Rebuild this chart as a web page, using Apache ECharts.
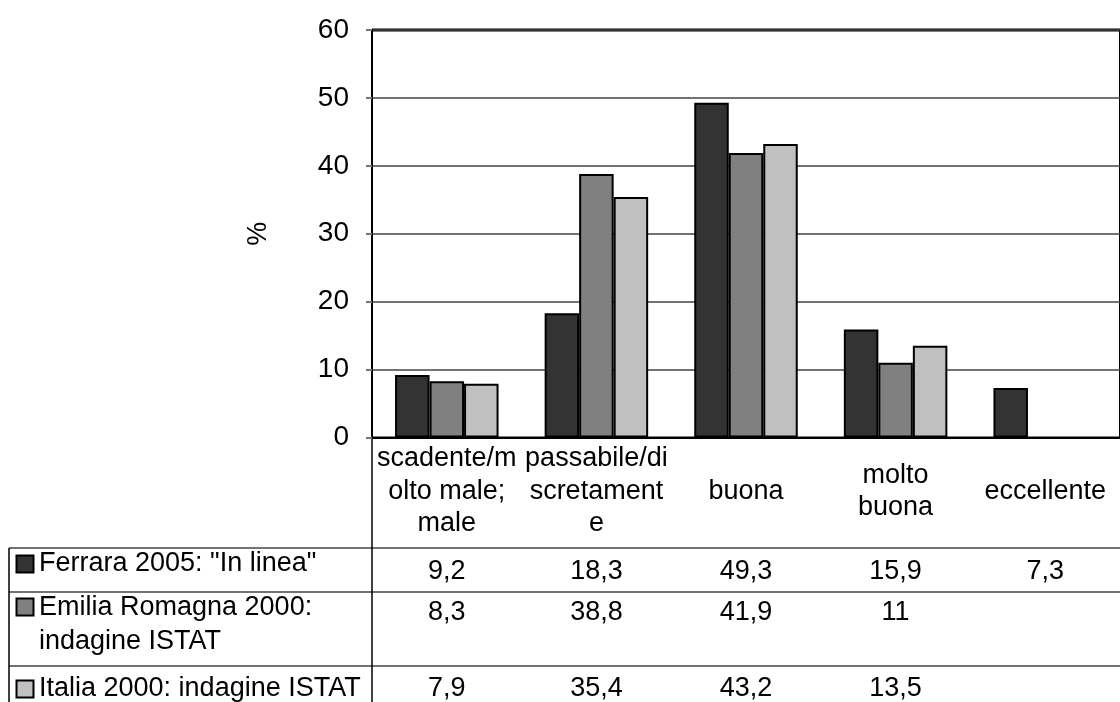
<!DOCTYPE html>
<html>
<head>
<meta charset="utf-8">
<script src="https://cdn.jsdelivr.net/npm/echarts@6/dist/echarts.min.js"></script>
<style>
  html, body { margin: 0; padding: 0; background: #fff; }
  #chart { width: 1120px; height: 702px; }
</style>
</head>
<body>
<div id="chart"></div>
<script>
// dati
var categories = ['scadente/m\nolto male;\nmale', 'passabile/di\nscretament\ne', 'buona', 'molto\nbuona', 'eccellente'];
var seriesNames = ['Ferrara 2005: "In linea"', 'Emilia Romagna 2000:\nindagine ISTAT', 'Italia 2000: indagine ISTAT'];
var ferrara = [9.2, 18.3, 49.3, 15.9, 7.3];
var emilia = [8.3, 38.8, 41.9, 11, null];
var italia = [7.9, 35.4, 43.2, 13.5, null];
var colors = ['#333333', '#808080', '#c0c0c0'];

var font = 'Liberation Sans, Arial, sans-serif';
var fsize = 27;
var dom = document.getElementById('chart');
var chart = echarts.init(dom);

var allData = [ferrara, emilia, italia];

function fmt(v) {
	if (v === null || v === undefined) return '';
	return String(v).replace('.', ',');
}

// righe della tabella: un asse categorico per ogni serie
var rowOffsets = [134, 175, 251];
var xAxes = [{
	type: 'category',
	data: categories,
	axisLine: { lineStyle: { color: '#000', width: 2 } },
	axisTick: { show: false },
	axisLabel: {
		interval: 0,
		margin: 54,
		verticalAlign: 'middle',
		fontFamily: font,
		fontSize: fsize,
		lineHeight: 32.5,
		color: '#000'
	}
}];
for (var i = 0; i < allData.length; i++) {
	xAxes.push({
		type: 'category',
		position: 'bottom',
		offset: rowOffsets[i],
		data: allData[i].map(fmt),
		axisLine: { show: false },
		axisTick: { show: false },
		axisLabel: {
			interval: 0,
			margin: 0,
			verticalAlign: 'middle',
			fontFamily: font,
			fontSize: fsize,
			color: '#000'
		}
	});
}

var series = [];
for (var i = 0; i < allData.length; i++) {
	series.push({
		name: seriesNames[i],
		type: 'bar',
		xAxisIndex: 0,
		data: allData[i],
		barWidth: 34.5,
		barGap: '0%',
		itemStyle: { color: colors[i], borderColor: '#000', borderWidth: 2 },
		animation: false
	});
}

// intestazione della tabella (legenda)
var rowKeyY = [564, 607, 689];
var rowTextY = [564, 625, 689];
var graphics = [];
for (var i = 0; i < seriesNames.length; i++) {
	graphics.push({
		type: 'rect',
		shape: { x: 16.5, y: rowKeyY[i] - 8.5, width: 17, height: 17 },
		style: { fill: colors[i], stroke: '#000', lineWidth: 2 }
	});
	graphics.push({
		type: 'text',
		x: 39,
		y: rowTextY[i],
		style: {
			text: seriesNames[i],
			font: fsize + 'px ' + font,
			fill: '#000',
			lineHeight: 34,
			verticalAlign: 'middle'
		}
	});
}
// linee della tabella
var hLines = [548, 592, 666];
hLines.forEach(function (y) {
	graphics.push({
		type: 'line',
		shape: { x1: 9, y1: y, x2: 1120, y2: y },
		style: { stroke: '#444', lineWidth: 1.5 }
	});
});
graphics.push({ type: 'line', shape: { x1: 9, y1: 548, x2: 9, y2: 702 }, style: { stroke: '#000', lineWidth: 1.5 } });
graphics.push({ type: 'line', shape: { x1: 372, y1: 439, x2: 372, y2: 702 }, style: { stroke: '#000', lineWidth: 1.5 } });
// bordo superiore dell'area del grafico, più spesso
graphics.push({ type: 'line', shape: { x1: 372, y1: 30, x2: 1120, y2: 30 }, style: { stroke: '#000', lineWidth: 3 } });

var option = {
	backgroundColor: '#fff',
	animation: false,
	grid: {
		left: 372,
		top: 30,
		width: 760,
		height: 409,
		show: true,
		borderColor: '#000',
		borderWidth: 2
	},
	xAxis: xAxes,
	yAxis: {
		type: 'value',
		min: 0,
		max: 60,
		interval: 10,
		name: '%',
		nameLocation: 'middle',
		nameRotate: 90,
		nameGap: 100,
		nameTextStyle: { fontFamily: font, fontSize: fsize, color: '#000' },
		axisLine: { show: true, lineStyle: { color: '#000', width: 2 } },
		axisTick: { show: true, length: 6, lineStyle: { color: '#777', width: 2 } },
		axisLabel: { margin: 23, fontFamily: font, fontSize: fsize + 1, color: '#000' },
		splitLine: { show: true, lineStyle: { color: '#444', width: 1.5 } }
	},
	series: series,
	graphic: graphics
};
chart.setOption(option);
</script>
</body>
</html>
